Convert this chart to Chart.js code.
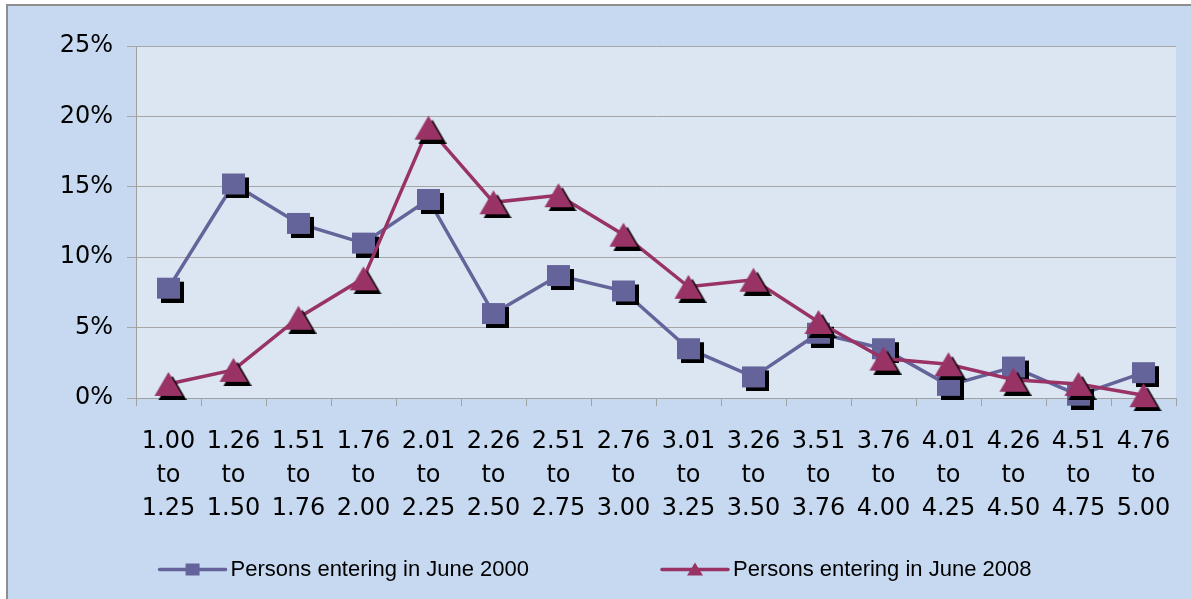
<!DOCTYPE html>
<html>
<head>
<meta charset="utf-8">
<script src="https://cdn.jsdelivr.net/npm/chart.js@4.4.1/dist/chart.umd.min.js"></script>
<style>
  html, body { margin: 0; padding: 0; background: #fff; }
  canvas { display: block; }
</style>
</head>
<body>
<canvas id="myChart" width="1191" height="599"></canvas>
<script>
// income ranges on the x axis (three text lines each)
const rangeFrom = ['1.00', '1.26', '1.51', '1.76', '2.01', '2.26', '2.51', '2.76',
                   '3.01', '3.26', '3.51', '3.76', '4.01', '4.26', '4.51', '4.76'];
const rangeTo = ['1.25', '1.50', '1.76', '2.00', '2.25', '2.50', '2.75', '3.00',
                 '3.25', '3.50', '3.76', '4.00', '4.25', '4.50', '4.75', '5.00'];

// share of persons, in percent
const june2000 = [7.8, 15.2, 12.4, 11.0, 14.1, 6.0, 8.7, 7.6, 3.5, 1.5, 4.6, 3.5, 0.9, 2.2, 0.2, 1.8];
const june2008 = [1.0, 2.0, 5.7, 8.5, 19.2, 13.9, 14.4, 11.6, 7.9, 8.4, 5.4, 2.8, 2.4, 1.3, 1.0, 0.2];

const seriesNames = ['Persons entering in June 2000', 'Persons entering in June 2008'];
const yTicks = [0, 5, 10, 15, 20, 25];

const blue = '#64649a';
const plum = '#993366';

// marker with a hard black shadow, drawn into a small canvas
function makeMarker(kind, color, w, h, shadow) {
    const c = document.createElement('canvas');
    c.width = w + shadow * 2;
    c.height = h + shadow * 2;
    const g = c.getContext('2d');
    function shape(dx, dy) {
        const x0 = shadow + dx, y0 = shadow + dy;
        g.beginPath();
        if (kind === 'square') {
            g.rect(x0, y0, w, h);
        } else {
            g.moveTo(x0 + w / 2, y0);
            g.lineTo(x0 + w, y0 + h);
            g.lineTo(x0, y0 + h);
            g.closePath();
        }
    }
    if (shadow) {
        g.fillStyle = '#000';
        shape(shadow, shadow);
        g.fill();
    }
    g.fillStyle = color;
    shape(0, 0);
    g.fill();
    return c;
}

const squareMarker = makeMarker('square', blue, 23, 21, 4);
const triangleMarker = makeMarker('triangle', plum, 28, 24, 4);

const bgPlugin = {
    id: 'bg',
    beforeDraw(chart) {
        const ctx = chart.ctx;
        const a = chart.chartArea;
        ctx.save();
        ctx.fillStyle = '#fff';
        ctx.fillRect(0, 0, chart.width, chart.height);
        ctx.fillStyle = '#c6d9f0';
        ctx.fillRect(7, 5, chart.width - 7, chart.height - 5);
        ctx.strokeStyle = '#8e8e8e';
        ctx.lineWidth = 2;
        ctx.beginPath();
        ctx.moveTo(7, chart.height);
        ctx.lineTo(7, 5);
        ctx.lineTo(chart.width, 5);
        ctx.stroke();
        ctx.fillStyle = '#dce6f2';
        ctx.fillRect(a.left, a.top, a.right - a.left, a.bottom - a.top);
        ctx.restore();
    }
};

// legend drawn by hand: line + small marker, then the name
const legendPlugin = {
    id: 'lineLegend',
    afterDraw(chart) {
        const ctx = chart.ctx;
        const y = 569.5;
        const lineLen = 66, gap = 133, textGap = 5;
        ctx.save();
        ctx.font = '22px "Liberation Sans", Arial, sans-serif';
        ctx.textBaseline = 'middle';
        const widths = seriesNames.map(t => lineLen + textGap + ctx.measureText(t).width);
        let x = (chart.width - (widths[0] + gap + widths[1])) / 2;
        seriesNames.forEach((name, i) => {
            const color = i === 0 ? blue : plum;
            ctx.strokeStyle = color;
            ctx.lineWidth = 3.5;
            ctx.lineCap = 'round';
            ctx.beginPath();
            ctx.moveTo(x, y);
            ctx.lineTo(x + lineLen, y);
            ctx.stroke();
            ctx.fillStyle = color;
            const cx = x + lineLen / 2;
            if (i === 0) {
                ctx.fillRect(cx - 7, y - 6, 14, 12);
            } else {
                ctx.beginPath();
                ctx.moveTo(cx, y - 7);
                ctx.lineTo(cx + 8, y + 6);
                ctx.lineTo(cx - 8, y + 6);
                ctx.closePath();
                ctx.fill();
            }
            ctx.fillStyle = '#000';
            ctx.fillText(name, x + lineLen + textGap, y);
            x += widths[i] + gap;
        });
        ctx.restore();
    }
};

const ctx = document.getElementById('myChart').getContext('2d');

const myChart = new Chart(ctx, {
    type: 'line',
    data: {
        labels: rangeFrom.map((f, i) => [f, 'to', rangeTo[i]]),
        datasets: [
            {
                label: seriesNames[0],
                data: june2000,
                borderColor: blue,
                borderWidth: 3.5,
                pointStyle: squareMarker,
                pointRadius: 10,
                clip: false,
                order: 2
            },
            {
                label: seriesNames[1],
                data: june2008,
                borderColor: plum,
                borderWidth: 3.5,
                pointStyle: triangleMarker,
                pointRadius: 10,
                clip: false,
                order: 1
            }
        ]
    },
    options: {
        responsive: false,
        animation: false,
        devicePixelRatio: 1,
        events: [],
        layout: { padding: { left: 36, top: 46, right: 15, bottom: 60 } },
        plugins: {
            legend: { display: false },
            tooltip: { enabled: false }
        },
        scales: {
            x: {
                offset: true,
                grid: {
                    offset: true,
                    drawOnChartArea: false,
                    color: '#a0a0a0',
                    tickLength: 8
                },
                border: { color: '#a0a0a0' },
                ticks: {
                    color: '#000',
                    maxRotation: 0,
                    autoSkip: false,
                    padding: 19,
                    font: { family: '"DejaVu Sans", Verdana, sans-serif', size: 24, lineHeight: 1.4 }
                },
                afterFit(scale) { scale.height = 141; }
            },
            y: {
                min: 0,
                max: 25,
                afterBuildTicks(scale) { scale.ticks = yTicks.map(v => ({ value: v })); },
                grid: { color: '#a6a6a6', tickLength: 9 },
                border: { color: '#a0a0a0' },
                ticks: {
                    color: '#000',
                    padding: 14,
                    font: { family: '"DejaVu Sans", Verdana, sans-serif', size: 24 },
                    callback: v => v + '%'
                },
                afterFit(scale) { scale.width = 100; }
            }
        }
    },
    plugins: [bgPlugin, legendPlugin]
});
</script>
</body>
</html>
